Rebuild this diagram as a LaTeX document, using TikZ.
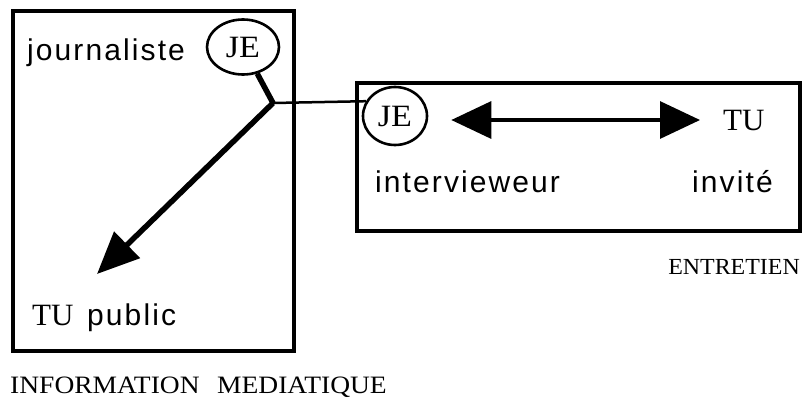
\documentclass[tikz,border=0pt]{standalone}
\usepackage{fontspec}
\setmainfont{Liberation Serif}
\newfontfamily\sansf[LetterSpace=7]{Liberation Sans}
\usetikzlibrary{arrows.meta,shapes.geometric}
\begin{document}
\begin{tikzpicture}[x=1pt,y=-1pt,
  box/.style={draw, line width=3.3pt},
  sanslbl/.style={anchor=base west, inner sep=0pt, font=\fontsize{30}{36}\selectfont\sansf},
  seriflbl/.style={anchor=base west, inner sep=0pt, font=\fontsize{31}{36}\selectfont},
  jebub/.style={draw, ellipse, line width=2.6pt, inner sep=0pt, font=\fontsize{31}{36}\selectfont},
  thick link/.style={line width=5.5pt},
  thin link/.style={line width=2.5pt},
  bigtip/.style={-{Triangle[length=42pt,width=36pt]}},
  dbl/.style={line width=3.2pt, {Triangle[length=40pt,width=37pt]}-{Triangle[length=40pt,width=37pt]}}
]
\useasboundingbox (0,0) rectangle (802,399);
% boxes
\draw[box] (13,11) rectangle (294,351);
\draw[box] (357,83) rectangle (800,231);
% bubbles
\node[jebub, minimum width=72pt, minimum height=55pt] (je1) at (243,47) {\scalebox{1.1}[1]{JE}};
\node[jebub, minimum width=64pt, minimum height=58pt] (je2) at (395,116) {\scalebox{1.1}[1]{JE}};
% labels
\node[sanslbl] (journ) at (27,60) {journaliste};
\node[seriflbl] (tupub) at (32,325) {TU};
\node[sanslbl] (pub) at (87,325) {public};
\node[sanslbl] (interv) at (375,192) {intervieweur};
\node[sanslbl] (invite) at (692,192) {invité};
\node[seriflbl] (tu2) at (723,130) {TU};
\node[anchor=base east, inner sep=0pt, font=\fontsize{23}{28}\selectfont] (entr) at (800,274) {\scalebox{1.04}[1]{ENTRETIEN}};
\node[anchor=base west, inner sep=0pt, font=\fontsize{25}{30}\selectfont] (info) at (10,393) {\scalebox{1.1}[1]{INFORMATION\hspace{16pt}MEDIATIQUE}};
% connectors
\coordinate (junc) at (273,103);
\coordinate (ptip) at (97,274);
\draw[thick link] (je1) -- (junc);
\draw[thin link] (junc) -- (je2.153);
\draw[thick link, bigtip] (junc) -- (ptip);
\draw[dbl, shorten <=23pt, shorten >=23pt] (je2.east |- tu2.west) -- (tu2.west);
\end{tikzpicture}
\end{document}
